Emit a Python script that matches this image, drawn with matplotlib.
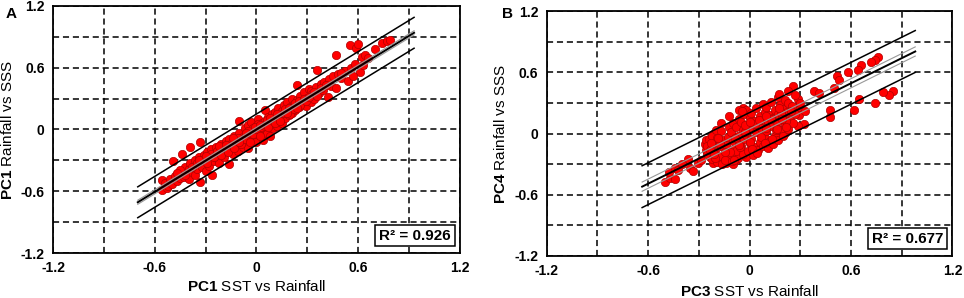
import matplotlib
matplotlib.use("Agg")
import matplotlib.pyplot as plt
import numpy as np

plt.rcParams.update({
    "font.family": ["Liberation Sans", "DejaVu Sans"],
    "mathtext.fontset": "custom",
    "mathtext.rm": "Liberation Sans",
    "mathtext.bf": "Liberation Sans:bold",
})

# ---- panel A: PC1 SST vs Rainfall (x) / PC1 Rainfall vs SSS (y)
a_x = [-0.56, -0.56, -0.53, -0.54, -0.52, -0.51, -0.50, -0.49, -0.48, -0.47,
       -0.46, -0.45, -0.44, -0.44, -0.43, -0.42, -0.41, -0.40, -0.40, -0.39,
       -0.39, -0.38, -0.37, -0.36, -0.36, -0.35, -0.34, -0.33, -0.33, -0.33,
       -0.32, -0.31, -0.30, -0.30, -0.29, -0.28, -0.28, -0.27, -0.26, -0.26,
       -0.25, -0.24, -0.24, -0.23, -0.22, -0.22, -0.21, -0.20, -0.20, -0.19,
       -0.18, -0.18, -0.17, -0.16, -0.16, -0.15, -0.14, -0.14, -0.13, -0.12,
       -0.12, -0.11, -0.10, -0.10, -0.09, -0.08, -0.08, -0.07, -0.06, -0.06,
       -0.05, -0.05, -0.04, -0.03, -0.03, -0.02, -0.01, 0.00, 0.00, 0.01,
       0.02, 0.03, 0.04, 0.04, 0.05, 0.05, 0.06, 0.07, 0.08, 0.08,
       0.09, 0.10, 0.10, 0.11, 0.12, 0.12, 0.13, 0.14, 0.15, 0.15,
       0.16, 0.17, 0.18, 0.18, 0.19, 0.20, 0.21, 0.21, 0.22, 0.23,
       0.24, 0.24, 0.25, 0.26, 0.27, 0.28, 0.29, 0.30, 0.31, 0.32,
       0.32, 0.33, 0.34, 0.35, 0.36, 0.37, 0.38, 0.39, 0.40, 0.42,
       0.43, 0.44, 0.45, 0.47, 0.47, 0.48, 0.50, 0.52, 0.54, 0.55,
       0.56, 0.58, 0.59, 0.60, 0.61, 0.62, 0.63, 0.64, 0.70, 0.74,
       0.77, -0.45, -0.42, -0.38, -0.35, -0.31, -0.29, -0.27, -0.25, -0.23,
       -0.21, -0.19, -0.17, -0.15, -0.13, -0.11, -0.09, -0.07, -0.05, -0.04,
       -0.02, 0.00, 0.01, 0.02, 0.03, 0.05, 0.06, 0.07, 0.09, 0.11,
       0.13, 0.14, 0.16, 0.17, 0.19, 0.20, 0.22, 0.23, 0.25, 0.26,
       0.28, 0.29, 0.31, 0.34, 0.36, 0.38, 0.41, -0.47, -0.34, -0.30,
       -0.22, -0.18, -0.14, -0.10, -0.06, -0.01, 0.02, 0.08, 0.12, 0.18,
       0.24, 0.66, 0.79, 0.57, 0.50]
a_y = [-0.49, -0.59, -0.57, -0.52, -0.55, -0.48, -0.53, -0.31, -0.45, -0.50,
       -0.42, -0.47, -0.24, -0.40, -0.46, -0.36, -0.43, -0.38, -0.48, -0.17,
       -0.33, -0.41, -0.35, -0.30, -0.44, -0.38, -0.27, -0.12, -0.51, -0.33,
       -0.36, -0.25, -0.31, -0.40, -0.22, -0.28, -0.35, -0.19, -0.44, -0.26,
       -0.31, -0.17, -0.23, -0.28, -0.20, -0.33, -0.14, -0.24, -0.18, -0.27,
       -0.11, -0.21, -0.16, -0.34, -0.09, -0.19, -0.13, -0.24, -0.06, -0.16,
       -0.10, -0.21, 0.08, -0.03, -0.12, -0.07, -0.17, 0.01, -0.05, -0.11,
       -0.18, 0.04, -0.02, -0.08, 0.07, 0.01, -0.05, 0.03, -0.12, 0.10,
       -0.02, 0.06, -0.10, 0.01, 0.19, 0.08, -0.03, 0.12, 0.04, -0.06,
       0.15, 0.07, 0.01, 0.17, 0.10, 0.03, 0.21, 0.13, 0.06, 0.18,
       0.24, 0.11, 0.19, 0.27, 0.14, 0.22, 0.30, 0.16, 0.25, 0.19,
       0.43, 0.29, 0.22, 0.33, 0.26, 0.36, 0.23, 0.31, 0.39, 0.37,
       0.27, 0.34, 0.30, 0.41, 0.58, 0.35, 0.44, 0.38, 0.46, 0.32,
       0.49, 0.42, 0.52, 0.72, 0.40, 0.54, 0.50, 0.57, 0.47, 0.82,
       0.60, 0.64, 0.79, 0.83, 0.56, 0.70, 0.63, 0.72, 0.78, 0.84,
       0.86, -0.39, -0.44, -0.36, -0.33, -0.29, -0.33, -0.24, -0.27, -0.21,
       -0.25, -0.17, -0.22, -0.14, -0.18, -0.08, -0.14, -0.09, -0.01, -0.12,
       -0.04, 0.00, 0.05, -0.06, 0.02, 0.03, 0.09, 0.02, 0.09, 0.06,
       0.14, 0.08, 0.16, 0.20, 0.21, 0.15, 0.20, 0.26, 0.28, 0.24,
       0.30, 0.28, 0.32, 0.36, 0.33, 0.40, 0.43, -0.42, -0.30, -0.26,
       -0.16, -0.15, -0.08, -0.12, -0.03, 0.02, 0.04, 0.11, 0.15, 0.16,
       0.21, 0.69, 0.87, 0.52, 0.55]

# ---- panel B: PC3 SST vs Rainfall (x) / PC4 Rainfall vs SSS (y)
b_x = [0.757, 0.74, 0.72, 0.66, 0.64, 0.52, 0.53, 0.846, 0.826, 0.787,
       0.74, 0.65, 0.62, 0.476, 0.476, 0.38, 0.41, 0.256, 0.226, 0.285,
       0.295, 0.325, 0.285, 0.207, 0.295,
       -0.498, -0.472, -0.443, -0.478, -0.443, -0.364, -0.354, -0.334, -0.305, -0.285,
       -0.04, -0.06, -0.02, 0.08, 0.167, 0.177, -0.02, -0.08, -0.138, -0.216,
       -0.236, -0.256, -0.266, -0.256, -0.216, -0.197,
       -0.25, -0.25, -0.24,
       -0.22, -0.23, -0.21, -0.22,
       -0.19, -0.20, -0.18, -0.19, -0.20,
       -0.16, -0.17, -0.15, -0.16, -0.17,
       -0.13, -0.12, -0.14, -0.13, -0.12,
       -0.10, -0.11, -0.09, -0.10, -0.11, -0.10,
       -0.07, -0.08, -0.06, -0.07, -0.08, -0.06,
       -0.04, -0.05, -0.03, -0.04, -0.05, -0.03,
       -0.01, 0.00, -0.02, -0.01, 0.00,
       0.02, 0.03, 0.01, 0.02, 0.03, 0.01,
       0.05, 0.06, 0.04, 0.05, 0.06, 0.04,
       0.08, 0.09, 0.07, 0.08, 0.09,
       0.11, 0.12, 0.10, 0.11, 0.12, 0.10,
       0.14, 0.15, 0.13, 0.14, 0.15,
       0.17, 0.18, 0.16, 0.17, 0.18,
       0.20, 0.21, 0.19, 0.20, 0.21,
       0.23, 0.24, 0.22, 0.23,
       0.26, 0.27, 0.25,
       -0.235, -0.205, -0.175, -0.145, -0.115, -0.085, -0.055, -0.025, 0.005, 0.035,
       0.065, 0.095, 0.125, 0.155, 0.185, 0.215, 0.245, -0.225, -0.185, -0.145,
       -0.105, -0.065, -0.025, 0.015, 0.055, 0.095, 0.135, 0.175, 0.215, -0.12,
       -0.09, -0.045, 0.00, 0.045, 0.09, 0.13, 0.16, 0.19, -0.17, -0.21,
       0.27, 0.30, 0.33, -0.40, -0.42, 0.58, 0.50]
b_y = [0.75, 0.72, 0.70, 0.675, 0.62, 0.56, 0.52, 0.417, 0.375, 0.41,
       0.30, 0.34, 0.23, 0.235, 0.163, 0.42, 0.40, 0.47, 0.42, 0.336,
       0.26, 0.098, 0.072, 0.007, 0.18,
       -0.473, -0.44, -0.447, -0.38, -0.342, -0.245, -0.342, -0.365, -0.293, -0.26,
       0.254, 0.228, 0.228, 0.29, 0.36, 0.385, -0.228, -0.26, -0.293, -0.293,
       -0.228, -0.163, -0.098, -0.065, 0.0, 0.016,
       -0.20, -0.12, -0.05,
       -0.25, -0.15, -0.08, -0.02,
       -0.28, -0.20, -0.12, -0.04, 0.03,
       -0.30, -0.22, -0.14, -0.06, 0.02,
       -0.27, -0.19, -0.11, -0.03, 0.06,
       -0.30, -0.22, -0.15, -0.07, 0.01, 0.10,
       -0.24, -0.17, -0.09, -0.02, 0.06, 0.14,
       -0.20, -0.12, -0.05, 0.03, 0.11, 0.19,
       -0.17, -0.09, -0.01, 0.07, 0.15,
       -0.21, -0.13, -0.05, 0.04, 0.12, 0.20,
       -0.16, -0.08, 0.01, 0.09, 0.17, 0.25,
       -0.12, -0.04, 0.05, 0.13, 0.21,
       -0.14, -0.07, 0.02, 0.10, 0.18, 0.26,
       -0.10, -0.02, 0.07, 0.15, 0.23,
       -0.06, 0.03, 0.11, 0.19, 0.28,
       -0.02, 0.08, 0.16, 0.24, 0.33,
       0.04, 0.13, 0.21, 0.30,
       0.10, 0.19, 0.27,
       -0.16, -0.24, -0.10, -0.26, -0.18, -0.04, -0.13, 0.01, -0.08, 0.09,
       -0.03, 0.05, 0.14, 0.03, 0.20, 0.12, 0.22, -0.09, -0.04, -0.18,
       -0.27, -0.11, 0.08, -0.15, 0.13, 0.17, -0.05, 0.25, 0.06, 0.17,
       -0.26, 0.22, 0.11, -0.19, -0.09, 0.31, 0.04, 0.14, 0.10, -0.20,
       0.38, 0.30, 0.22, -0.30, -0.36, 0.60, 0.45]

# regression lines: slope, intercept, prediction half-width,
# confidence half-width, x range
a_fit = dict(slope=1.01, icpt=0.0, pi=0.15, ci=0.02, x0=-0.70, x1=0.93)
b_fit = dict(slope=0.82, icpt=0.0, pi=0.205, ci=0.045, x0=-0.635, x1=0.98)

ticks_all = [-1.2, -0.9, -0.6, -0.3, 0.0, 0.3, 0.6, 0.9, 1.2]
tick_labels = ["-1.2", "", "-0.6", "", "0", "", "0.6", "", "1.2"]


def panel(ax, x, y, fit, xlab, ylab, r2):
    ax.set_xlim(-1.2, 1.2)
    ax.set_ylim(-1.2, 1.2)
    ax.set_xticks(ticks_all)
    ax.set_yticks(ticks_all)
    ax.set_xticklabels(tick_labels, fontsize=10, fontweight="bold")
    ax.set_yticklabels(tick_labels, fontsize=10, fontweight="bold")
    ax.tick_params(length=0, pad=6)
    ax.grid(True, color="black", linestyle=(0, (4, 2.5)), linewidth=1.1)
    ax.set_axisbelow(True)
    for sp in ax.spines.values():
        sp.set_linewidth(1.3)

    ax.scatter(x, y, s=36, color="#ff0000", edgecolors="#b00000",
               linewidths=0.5, zorder=3)

    xs = np.linspace(fit["x0"], fit["x1"], 50)
    yc = fit["slope"] * xs + fit["icpt"]
    ax.plot(xs, yc + fit["ci"], color="#999999", lw=0.8, zorder=4)
    ax.plot(xs, yc - fit["ci"], color="#999999", lw=0.8, zorder=4)
    ax.plot(xs, yc, color="black", lw=1.4, zorder=5)
    ax.plot(xs, yc + fit["pi"], color="black", lw=1.1, zorder=5)
    ax.plot(xs, yc - fit["pi"], color="black", lw=1.1, zorder=5)

    ax.set_xlabel(xlab, fontsize=11)
    ax.set_ylabel(ylab, fontsize=11)
    ax.text(0.935, -1.03, r2, ha="center", va="center", fontsize=11,
            fontweight="bold", zorder=6,
            bbox=dict(boxstyle="square,pad=0.25", facecolor="white",
                      edgecolor="black", linewidth=1.1))
    return ax


fig = plt.figure(figsize=(9.64, 2.98), dpi=100)
ax1 = fig.add_axes([0.055, 0.151, 0.422, 0.829])
ax2 = fig.add_axes([0.567, 0.141, 0.421, 0.822])

panel(ax1, a_x, a_y, a_fit, r"$\mathbf{PC1}$ SST vs Rainfall",
      r"$\mathbf{PC1}$ Rainfall vs SSS", "R² = 0.926")
panel(ax2, b_x, b_y, b_fit, r"$\mathbf{PC3}$ SST vs Rainfall",
      r"$\mathbf{PC4}$ Rainfall vs SSS", "R² = 0.677")

ax1.xaxis.set_label_coords(0.5, -0.105)
ax1.yaxis.set_label_coords(-0.093, 0.5)
ax2.xaxis.set_label_coords(0.5, -0.115)
ax2.yaxis.set_label_coords(-0.096, 0.5)

fig.text(0.006, 0.975, "A", fontsize=11, fontweight="bold", va="top")
fig.text(0.521, 0.975, "B", fontsize=11, fontweight="bold", va="top")

fig.savefig("out.png", dpi=100)
